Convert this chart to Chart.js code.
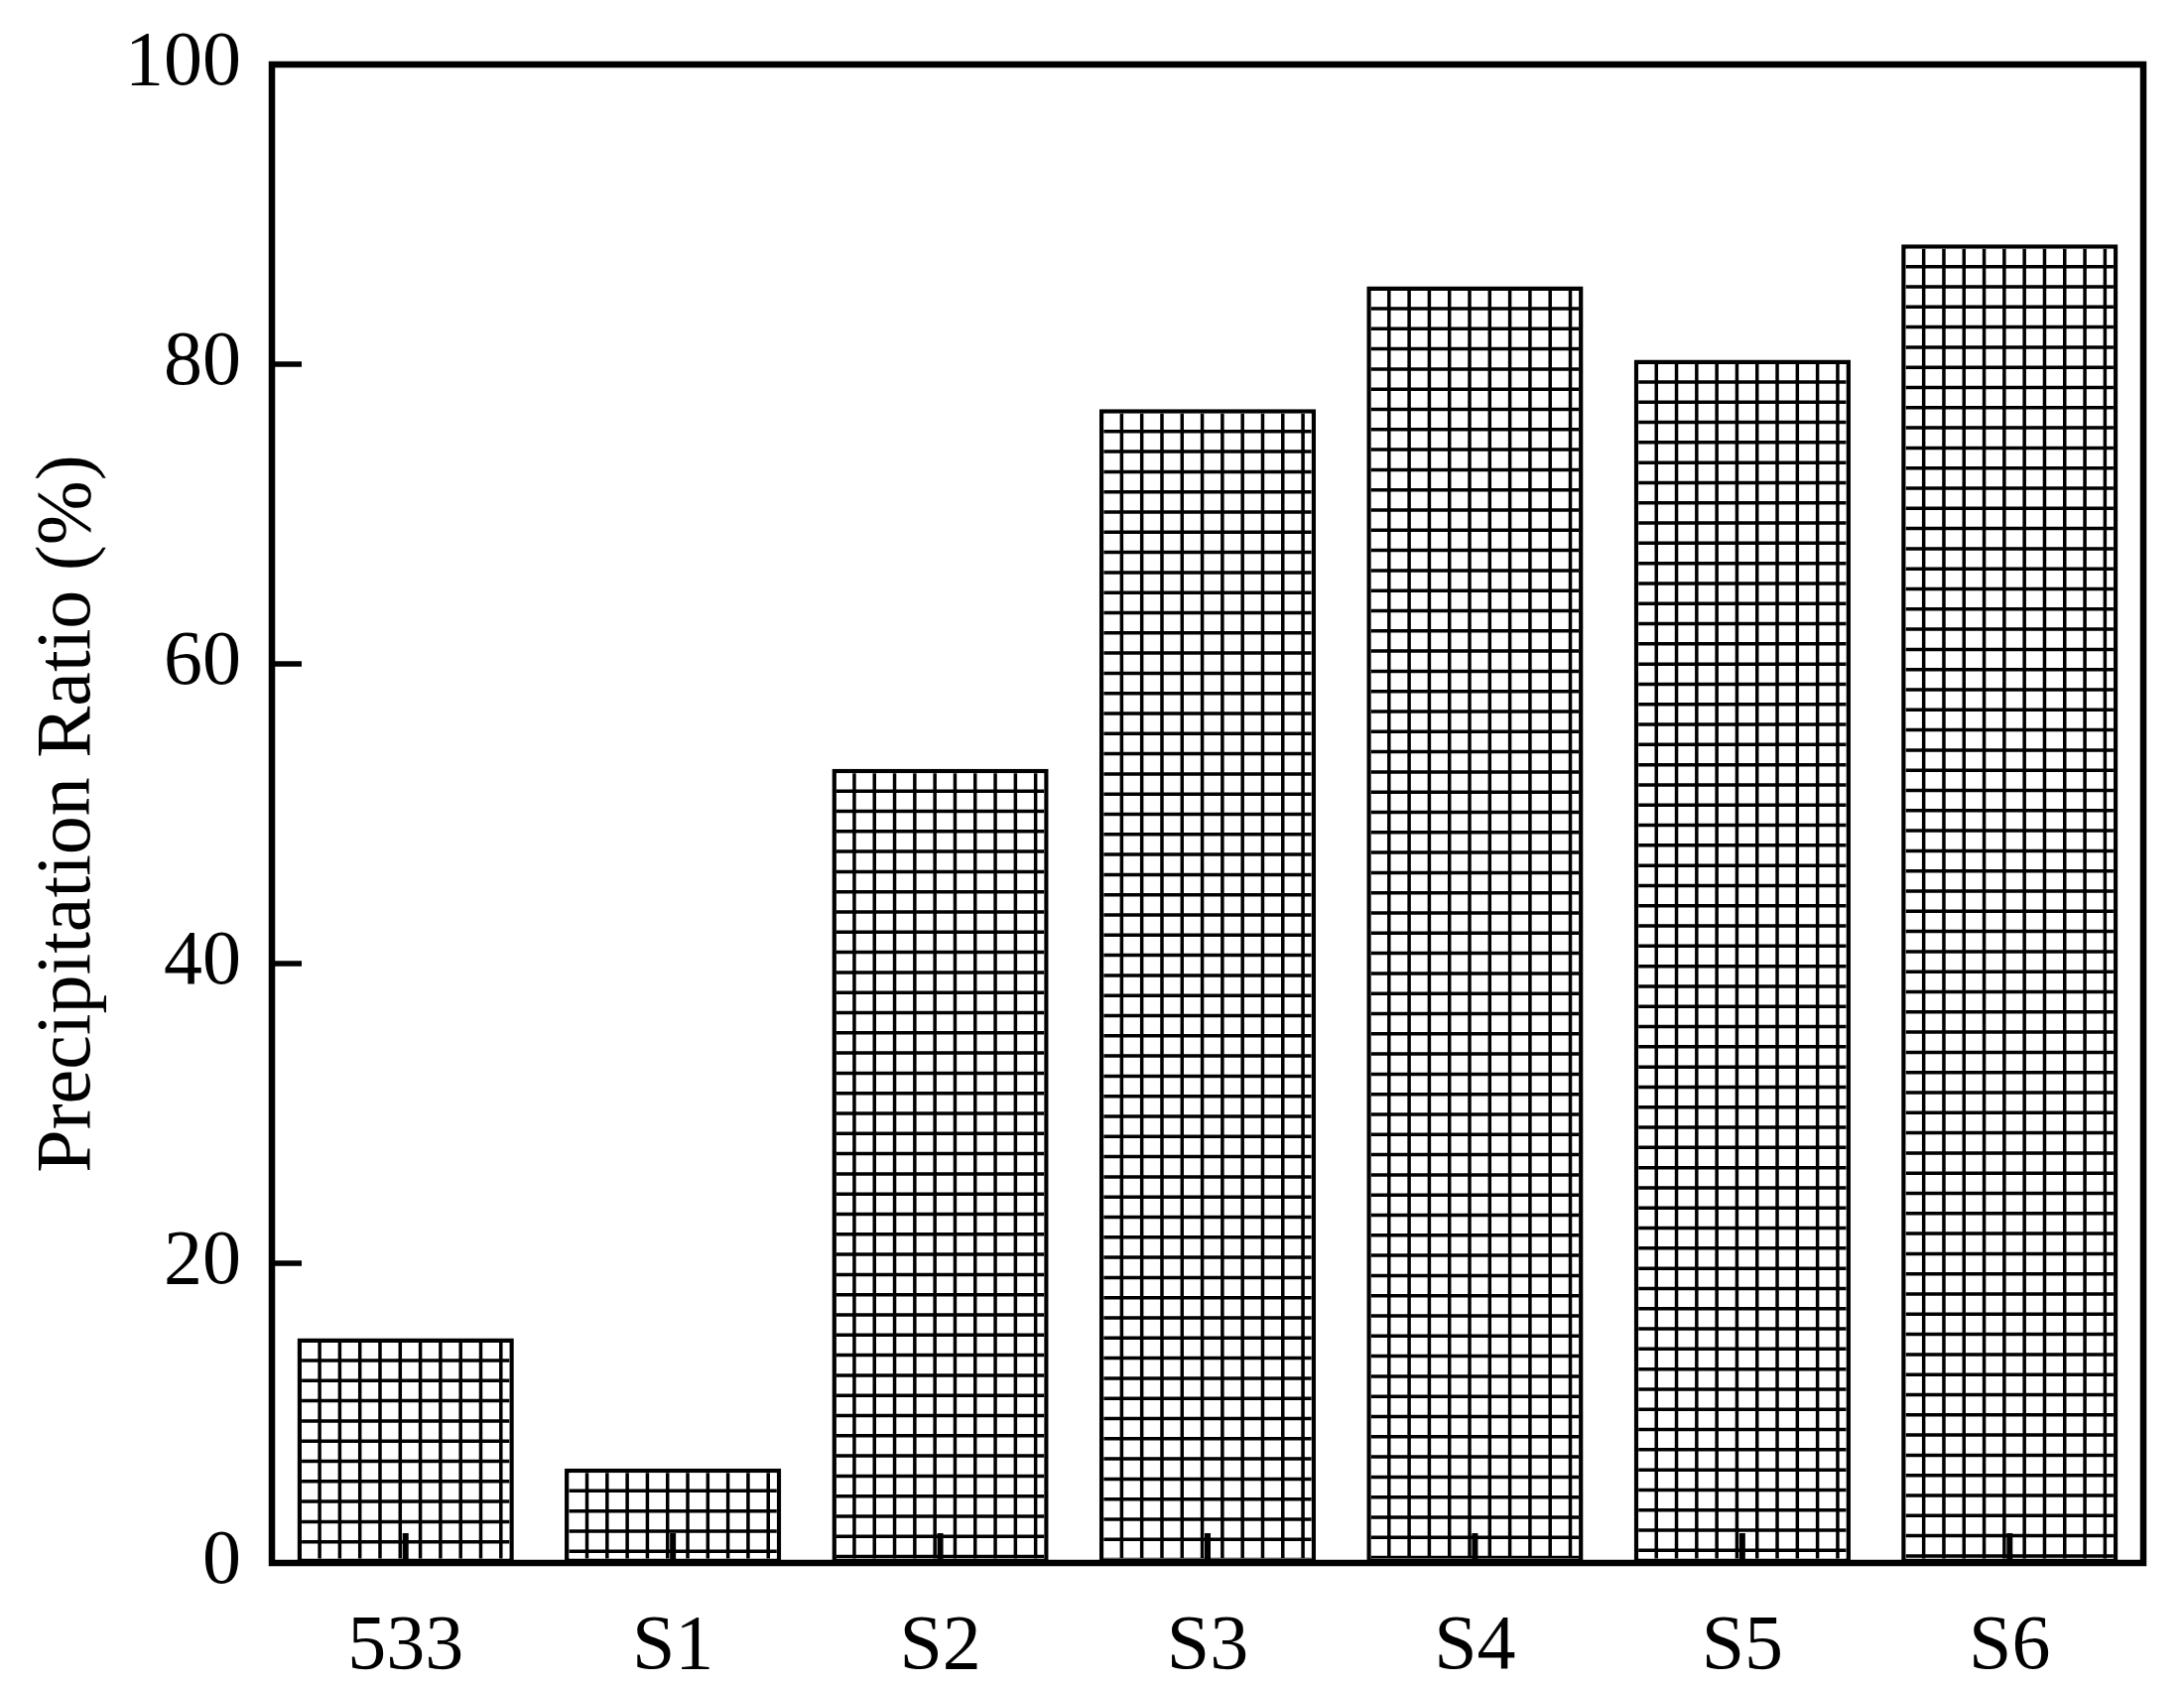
<!DOCTYPE html>
<html lang="en">
<head>
    <meta charset="UTF-8">
    <title>Precipitation Ratio</title>
    <style>
        body {
            margin: 0;
            background-color: white;
        }
    </style>
</head>
<body>
    <canvas id="ratio-chart" width="2201" height="1700"></canvas>

    <script src="https://cdn.jsdelivr.net/npm/chart.js"></script>
    <script>
        // Data
        const samples = ['533', 'S1', 'S2', 'S3', 'S4', 'S5', 'S6'];
        const precipRatio = [15.0, 6.3, 53.0, 77.0, 85.2, 80.3, 88.0];
        const yTicks = [0, 20, 40, 60, 80, 100];

        const serif = "'Liberation Serif', 'Times New Roman', serif";

        // Square mesh inside every bar, plus frame and inward ticks
        const meshPlugin = {
            id: 'mesh',
            afterDatasetsDraw(chart) {
                const ctx = chart.ctx;
                const area = chart.chartArea;
                const cell = 20.3;
                const border = 4.5;

                ctx.save();
                ctx.strokeStyle = '#000';
                ctx.lineWidth = 3.5;
                chart.getDatasetMeta(0).data.forEach(bar => {
                    const p = bar.getProps(['x', 'y', 'base', 'width'], true);
                    const left = p.x - p.width / 2;
                    const right = p.x + p.width / 2;
                    const top = Math.min(p.y, p.base);
                    const bottom = Math.max(p.y, p.base);

                    ctx.save();
                    ctx.beginPath();
                    ctx.rect(left + border, top + border, right - left - 2 * border, bottom - top - 2 * border);
                    ctx.clip();
                    ctx.beginPath();
                    for (let gx = left + 22.5; gx < right; gx += cell) {
                        ctx.moveTo(gx, top);
                        ctx.lineTo(gx, bottom);
                    }
                    for (let gy = top + 22.5; gy < bottom; gy += cell) {
                        ctx.moveTo(left, gy);
                        ctx.lineTo(right, gy);
                    }
                    ctx.stroke();
                    ctx.restore();
                });

                // x ticks pointing up from the bottom axis
                const xs = chart.scales.x;
                ctx.lineWidth = 6;
                ctx.beginPath();
                samples.forEach((s, i) => {
                    const px = xs.getPixelForValue(i);
                    ctx.moveTo(px, area.bottom);
                    ctx.lineTo(px, area.bottom - 30);
                });
                ctx.stroke();

                // y ticks pointing right from the left axis
                const ys = chart.scales.y;
                ctx.lineWidth = 5.5;
                ctx.beginPath();
                yTicks.forEach(v => {
                    const py = ys.getPixelForValue(v);
                    ctx.moveTo(area.left, py);
                    ctx.lineTo(area.left + 30, py);
                });
                ctx.stroke();

                // box frame
                ctx.lineWidth = 6.5;
                ctx.strokeRect(area.left, area.top, area.right - area.left, area.bottom - area.top);
                ctx.restore();
            }
        };

        new Chart(document.getElementById('ratio-chart'), {
            type: 'bar',
            data: {
                labels: samples,
                datasets: [{
                    data: precipRatio,
                    backgroundColor: '#fff',
                    borderColor: '#000',
                    borderWidth: 4.5,
                    borderSkipped: false,
                    categoryPercentage: 1.0,
                    barPercentage: 0.81
                }]
            },
            options: {
                responsive: false,
                animation: false,
                devicePixelRatio: 1,
                layout: {
                    padding: { left: 0, top: 65, right: 41, bottom: 0 }
                },
                plugins: {
                    legend: { display: false },
                    tooltip: { enabled: false }
                },
                scales: {
                    x: {
                        grid: { display: false, drawTicks: false },
                        border: { display: false },
                        ticks: {
                            color: '#000',
                            padding: 39,
                            maxRotation: 0,
                            font: { family: serif, size: 78 }
                        },
                        afterFit(scale) {
                            scale.height = 125;
                            scale.paddingLeft = 0;
                            scale.paddingRight = 0;
                        }
                    },
                    y: {
                        min: 0,
                        max: 100,
                        grid: { display: false, drawTicks: false },
                        border: { display: false },
                        ticks: {
                            color: '#000',
                            stepSize: 20,
                            padding: 31,
                            font: { family: serif, size: 78 }
                        },
                        title: {
                            display: true,
                            text: 'Precipitation Ratio (%)',
                            color: '#000',
                            padding: { top: 23, bottom: 0 },
                            font: { family: serif, size: 78 }
                        },
                        afterFit(scale) {
                            scale.width = 274;
                            scale.paddingTop = 0;
                            scale.paddingBottom = 0;
                        }
                    }
                }
            },
            plugins: [meshPlugin]
        });
    </script>
</body>
</html>
